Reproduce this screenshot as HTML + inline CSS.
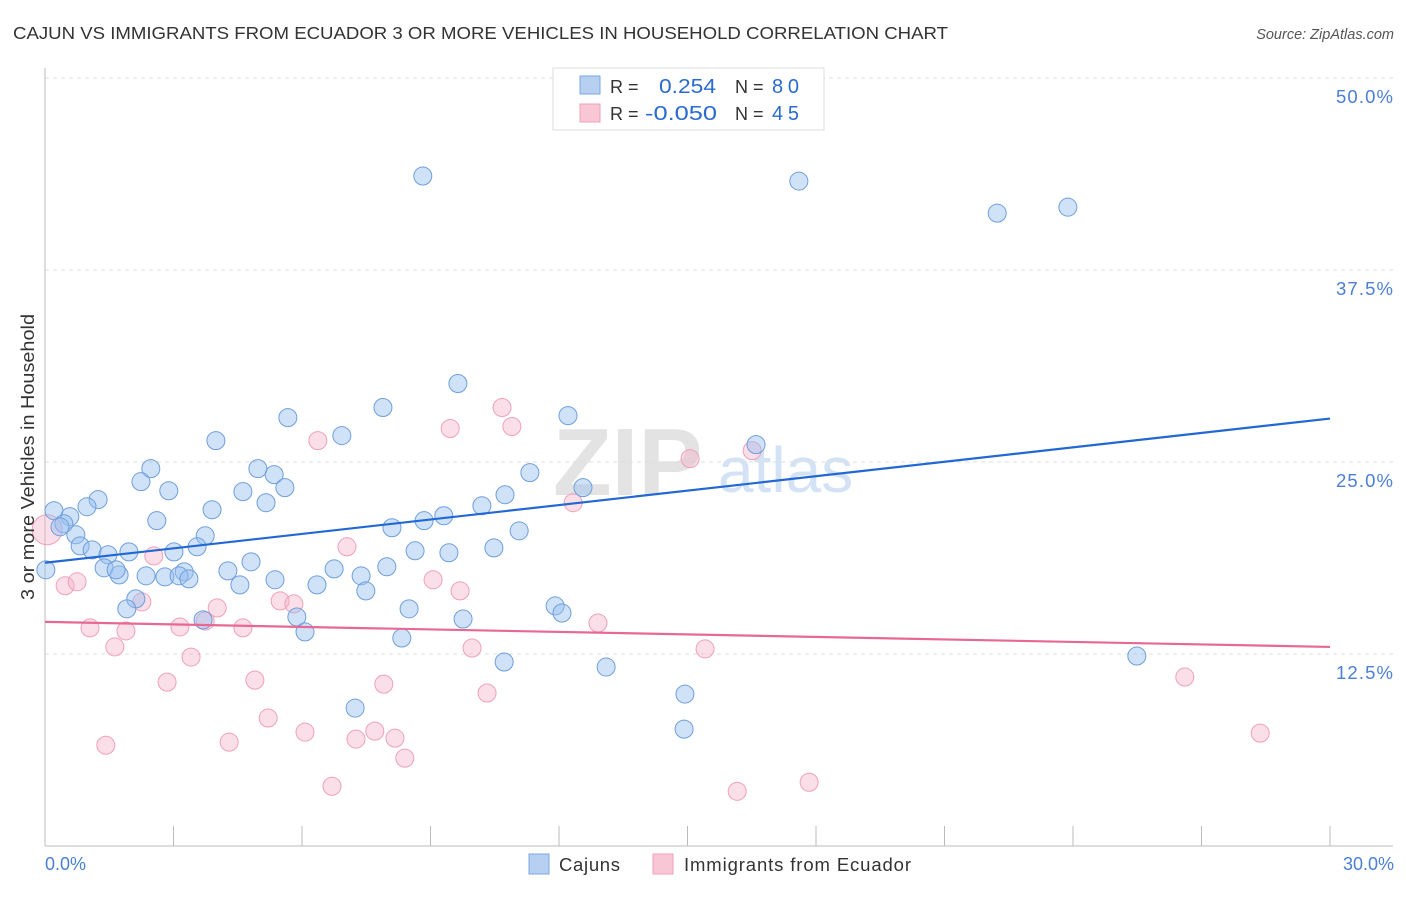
<!DOCTYPE html>
<html><head><meta charset="utf-8"><style>
body{margin:0;background:#fff;font-family:"Liberation Sans",sans-serif}
svg text{font-family:"Liberation Sans",sans-serif}
</style></head><body>
<svg id="c" width="1406" height="892">
<text x="13" y="39" font-size="17.5" fill="#333" textLength="935" lengthAdjust="spacingAndGlyphs">CAJUN VS IMMIGRANTS FROM ECUADOR 3 OR MORE VEHICLES IN HOUSEHOLD CORRELATION CHART</text>
<text x="1394" y="39" font-size="14.5" fill="#555" font-style="italic" text-anchor="end">Source: ZipAtlas.com</text>
<g>
<text x="553" y="495" font-size="96" fill="#e3e3e3" font-family="Liberation Serif" font-weight="bold">ZIP</text>
<text x="718" y="492" font-size="64" fill="#d3e2f5">atlas</text>
</g>
<g id="grid"></g><g id="axes"></g><g id="pts"></g><g id="lines"></g>
<text transform="translate(34,457) rotate(-90)" font-size="18" fill="#333" text-anchor="middle" textLength="286" lengthAdjust="spacingAndGlyphs">3 or more Vehicles in Household</text>
<text x="45" y="870" font-size="18" fill="#4a7fd4">0.0%</text>
<text x="1394" y="870" font-size="18" fill="#4a7fd4" text-anchor="end">30.0%</text>
<g>
<rect x="553" y="68" width="271" height="62" fill="#fff" stroke="#ddd"/>
<rect x="580" y="76" width="20" height="18" fill="#b7d0f2" stroke="#7aa8e0"/>
<rect x="580" y="104" width="20" height="18" fill="#f8c6d4" stroke="#f0a0b8"/>
<text x="610" y="93" font-size="18" fill="#333">R =</text>
<text x="659" y="93" font-size="20" fill="#2a6bd0" textLength="57" lengthAdjust="spacingAndGlyphs">0.254</text>
<text x="735" y="93" font-size="18" fill="#333">N =</text>
<text x="772" y="93" font-size="20" fill="#2a6bd0" textLength="27">80</text>
<text x="610" y="120" font-size="18" fill="#333">R =</text>
<text x="645" y="120" font-size="20" fill="#2a6bd0" textLength="72" lengthAdjust="spacingAndGlyphs">-0.050</text>
<text x="735" y="120" font-size="18" fill="#333">N =</text>
<text x="772" y="120" font-size="20" fill="#2a6bd0" textLength="27">45</text>
</g>
<g>
<rect x="529" y="854" width="20" height="20" fill="#b7d0f2" stroke="#7aa8e0"/>
<text x="559" y="871" font-size="18.5" fill="#333" textLength="61">Cajuns</text>
<rect x="653" y="854" width="20" height="20" fill="#f8c6d4" stroke="#f0a0b8"/>
<text x="684" y="871" font-size="18.5" fill="#333" textLength="227">Immigrants from Ecuador</text>
</g>
</svg>
<script>
const yTicks=[12.5,25,37.5,50];
const yTickLabels=["12.5%","25.0%","37.5%","50.0%"];
const xTicks=[3,6,9,12,15,18,21,24,27,30];
const cajunX=[8.82,17.60,22.23,23.88,9.64,7.89,12.21,5.67,6.93,3.99,16.60,2.47,5.35,4.97,11.32,2.24,2.89,4.62,5.60,12.56,1.24,0.21,5.16,10.74,0.98,3.90,10.20,0.58,9.31,2.61,0.44,8.85,8.10,0.35,11.07,0.72,3.74,0.82,1.10,10.48,8.64,9.43,1.96,1.47,3.01,3.55,4.81,0.02,1.38,1.73,1.66,3.25,4.27,6.75,7.98,2.36,2.80,3.13,3.36,5.37,7.38,6.35,4.55,7.49,2.12,1.91,8.50,11.91,12.07,5.88,3.69,9.76,6.07,8.33,10.72,13.10,25.49,14.94,7.24,14.92];
const cajunY=[43.62,43.29,41.20,41.59,30.11,28.55,28.02,27.89,26.72,26.39,26.13,24.57,24.18,24.57,24.31,23.72,23.13,23.07,23.33,23.33,22.55,21.83,22.35,22.87,22.09,21.89,22.15,21.44,21.50,21.18,20.98,21.18,20.72,20.78,20.52,20.26,20.20,19.54,19.28,19.41,19.22,19.09,19.15,18.96,19.15,19.48,18.50,17.98,18.11,17.65,17.98,17.85,17.91,18.04,18.18,17.59,17.52,17.59,17.39,17.33,17.59,17.00,17.00,16.61,16.09,15.44,15.44,15.63,15.17,14.91,14.72,14.78,13.94,13.54,11.98,11.65,12.37,9.89,8.98,7.61];
const ecuX=[0.05,10.67,9.46,10.90,6.37,15.06,16.51,12.33,7.05,2.54,0.47,0.75,9.06,9.69,2.26,5.49,5.81,4.02,3.74,12.91,1.05,1.89,3.15,4.62,1.63,9.97,15.41,3.41,2.85,4.90,7.91,10.32,26.61,5.21,6.07,7.70,7.26,8.17,4.30,1.42,28.37,8.40,6.70,17.84,16.16];
const ecuY=[20.59,28.55,27.18,27.31,26.39,25.22,25.74,22.35,19.48,18.89,16.94,17.20,17.33,16.61,15.89,15.96,15.76,15.50,14.65,14.52,14.20,14.00,14.26,14.20,12.96,12.89,12.83,12.30,10.67,10.80,10.54,9.96,11.00,8.33,7.41,7.48,6.96,7.02,6.76,6.56,7.35,5.72,3.89,4.15,3.56];
const cajunTrend=[18.44,27.83];
const ecuTrend=[14.59,12.96];
const NS="http://www.w3.org/2000/svg";
const X=v=>45+v/30*1285, Y=v=>846-v/50*768;
function mk(t,a,p){const e=document.createElementNS(NS,t);for(const k in a)e.setAttribute(k,a[k]);document.getElementById(p).appendChild(e);return e;}
yTicks.forEach((t,i)=>{
 const l=mk('line',{x1:45,x2:1393,y1:Y(t),y2:Y(t),stroke:'#ddd','stroke-dasharray':'4,4'},'grid');
 
 
 const tx=mk('text',{x:1393,y:Y(t)+25,'font-size':18.5,fill:'#4a7fd4','text-anchor':'end',textLength:57},'grid');
 tx.textContent=yTickLabels[i];
 
 
});
const ax=mk('line',{x1:45,x2:1393,y1:846,y2:846,stroke:'#bbb'},'axes');


const ay=mk('line',{x1:45,x2:45,y1:68,y2:846,stroke:'#bbb'},'axes');


xTicks.forEach(t=>{
 const l=mk('line',{x1:X(t),x2:X(t),y1:826,y2:846,stroke:'#bbb'},'axes');
 
 
});
function pts(xs,ys,fill,stroke,name){
 xs.forEach((x,i)=>{
  const r=(i===0&&x<0.1)?15:9;
  const c=mk('circle',{cx:X(x),cy:Y(ys[i]),r:r,fill:fill,stroke:stroke,'stroke-width':1},'pts');
  
  
 });
}
pts(ecuX,ecuY,'rgba(245,175,198,0.4)','#f0a0b8','ecuador-point');
pts(cajunX,cajunY,'rgba(150,190,240,0.45)','#6e9fdc','cajun-point');
const l1=mk('line',{x1:X(0),x2:X(30),y1:Y(cajunTrend[0]),y2:Y(cajunTrend[1]),stroke:'#2268d4','stroke-width':2.2},'lines');


const l2=mk('line',{x1:X(0),x2:X(30),y1:Y(ecuTrend[0]),y2:Y(ecuTrend[1]),stroke:'#e86894','stroke-width':2.2},'lines');


</script>
</body></html>
